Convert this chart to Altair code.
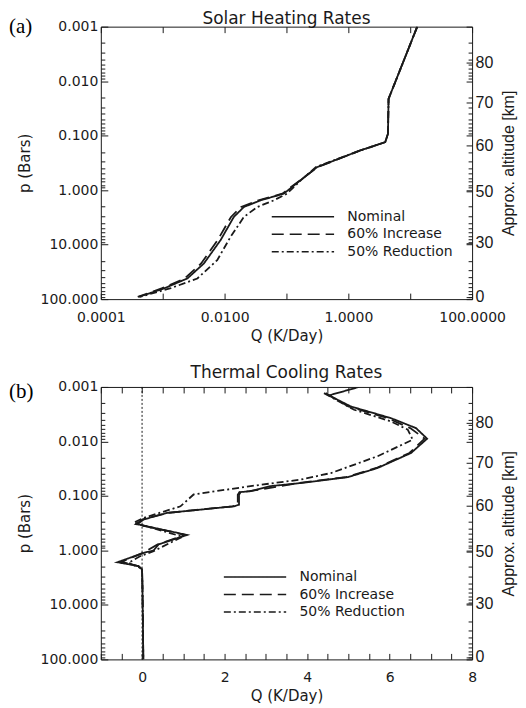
import altair as alt
import pandas as pd

series_names = ["Nominal", "60% Increase", "50% Reduction"]
dash_styles = [[1, 0], [12, 6], [7, 3, 2, 3]]

# ---------- Panel (a): Solar heating rates ----------
a_nom_p = [0.001, 0.0211, 0.0923, 0.1316, 0.187, 0.378, 0.662, 1.16, 1.54, 2.04, 3.11, 8.3, 22.2, 41.8, 63.7, 90.8]
a_nom_q = [13.0, 4.47, 4.37, 3.95, 1.56, 0.313, 0.168, 0.0904, 0.0381, 0.0205, 0.0141, 0.0086, 0.00463, 0.0025, 0.00105, 0.000415]
a_inc_p = [0.001, 0.0211, 0.0923, 0.1316, 0.187, 0.378, 0.662, 1.16, 1.54, 2.04, 3.11, 8.3, 22.2, 41.8, 63.7, 90.8]
a_inc_q = [13.0, 4.47, 4.37, 3.95, 1.56, 0.32, 0.165, 0.086, 0.0353, 0.0185, 0.0127, 0.0077, 0.00418, 0.00226, 0.00096, 0.000395]
a_red_p = [0.001, 0.0211, 0.0923, 0.1316, 0.187, 0.378, 0.662, 1.16, 1.54, 2.04, 3.11, 7.2, 19.3, 41.8, 63.0, 90.8]
a_red_q = [13.0, 4.47, 4.37, 3.95, 1.56, 0.30, 0.17, 0.102, 0.0624, 0.0337, 0.0205, 0.0125, 0.0076, 0.00363, 0.00135, 0.00043]

# ---------- Panel (b): Thermal cooling rates ----------
b_nom_p = [0.001, 0.00143, 0.00228, 0.00373, 0.00569, 0.0089, 0.0163, 0.0307, 0.045, 0.058, 0.066, 0.082, 0.085,
           0.095, 0.145, 0.155, 0.205, 0.27, 0.33, 0.52, 0.776, 1.0, 1.11, 1.65, 1.94, 2.23, 5.0, 20.0, 100.0]
b_nom_q = [5.26, 4.53, 5.06, 6.03, 6.64, 6.91, 6.52, 5.71, 5.0, 3.85, 3.12, 2.63, 2.39,
           2.35, 2.35, 2.23, 0.61, 0.04, -0.12, 1.09, 0.40, 0.28, 0.04, -0.6, -0.08, 0.0, 0.01, 0.02, 0.03]
b_inc_p = [0.0013, 0.00228, 0.00373, 0.00569, 0.0089, 0.0163, 0.0307, 0.045, 0.058, 0.082, 0.085, 0.095, 0.145,
           0.155, 0.205, 0.27, 0.33, 0.52, 0.776, 1.11, 1.62, 1.94, 2.23, 5.0, 20.0, 100.0]
b_inc_q = [4.45, 5.0, 5.95, 6.5, 6.85, 6.48, 5.68, 4.95, 3.8, 2.6, 2.36, 2.32, 2.32,
           2.2, 0.6, 0.02, -0.15, 1.05, 0.38, 0.02, -0.5, -0.1, 0.0, 0.01, 0.02, 0.03]
b_red_p = [0.0013, 0.00262, 0.00428, 0.00608, 0.00927, 0.0187, 0.038, 0.0501, 0.066, 0.094, 0.155, 0.253, 0.31,
           0.56, 1.03, 1.27, 1.69, 2.1, 2.3, 5.0, 20.0, 100.0]
b_red_q = [4.41, 5.14, 6.03, 6.44, 6.56, 5.71, 4.58, 3.85, 2.63, 1.25, 0.93, 0.04, -0.2,
           0.98, 0.28, -0.04, -0.33, -0.04, 0.0, 0.01, 0.02, 0.03]
zero_q = [0.0]

# ---------- axis ticks ----------
p_major = [0.001, 0.01, 0.1, 1, 10, 100]
p_minor = [m * 10.0 ** e for e in range(-3, 2) for m in range(2, 10)]
alt_km = [0, 30, 50, 60, 70, 80]
alt_p = [90.0, 9.3, 1.06, 0.15, 0.0248, 0.0045]
xa_labels = [0.0001, 0.01, 1, 100]
xa_ticks = [0.0001, 0.001, 0.01, 0.1, 1, 10, 100]
xb_labels = [0, 2, 4, 6, 8]
xb_ticks = [v / 2 for v in range(-2, 17)]

FONT = "DejaVu Sans"
INK = "#1a1a1a"
W, H = 372, 273


def frame(rows):
    recs = []
    for name, ps, qs in rows:
        for i, (p, q) in enumerate(zip(ps, qs)):
            recs.append({"series": name, "i": i, "p": p, "q": q})
    return pd.DataFrame(recs)


alt_expr = " : ".join(
    f"abs(log(datum.value) - log({p})) < 0.01 ? '{k}'" for p, k in zip(alt_p, alt_km)
) + " : ''"


def tick_axis(orient, values, size):
    return alt.Axis(orient=orient, values=values, labels=False, ticks=True,
                    tickSize={"expr": str(-size)}, tickColor=INK, tickWidth=1,
                    domain=False, grid=False, title=None)


def panel(df, xs, x_lab_vals, x_fmt, x_tick_vals, xdom, legend_x, title, tag, tag_y, title_off, zero_df=None):
    ys = alt.Scale(type="log", domain=[0.001, 100], reverse=True, nice=False)
    corners = pd.DataFrame({"q": xdom, "p": [0.001, 100]})

    leg = alt.Legend(orient="none", legendX=legend_x, legendY=183, title=None,
                     symbolType="stroke", symbolSize=3900, symbolStrokeWidth=1.6,
                     symbolStrokeColor=INK, labelFont=FONT, labelFontSize=14,
                     labelColor=INK, labelOffset=12, rowPadding=2.5, clipHeight=15, padding=0)

    lines = alt.Chart(df).mark_line(color=INK, strokeWidth=1.8, clip=True).encode(
        x=alt.X("q:Q", scale=xs, axis=alt.Axis(
            orient="bottom", values=x_lab_vals, format=x_fmt, ticks=False, domain=False,
            grid=False, labelFont=FONT, labelFontSize=14, labelColor=INK, labelPadding=11,
            labelFlush=False, labelOverlap=False, title="Q (K/Day)", titleFont=FONT,
            titleFontSize=15, titleFontWeight="normal", titleColor=INK, titlePadding=4)),
        y=alt.Y("p:Q", scale=ys, axis=alt.Axis(
            orient="left", values=p_major, format=".3f", ticks=False, domain=False,
            grid=False, labelFont=FONT, labelFontSize=14, labelColor=INK, labelPadding=3,
            labelOverlap=False, title="p (Bars)", titleFont=FONT, titleFontSize=15,
            titleFontWeight="normal", titleColor=INK, titlePadding=8)),
        strokeDash=alt.StrokeDash("series:N", scale=alt.Scale(domain=series_names, range=dash_styles),
                                  legend=leg),
        order=alt.Order("i:Q"),
    )

    def ghost(xaxis, yaxis):
        return alt.Chart(corners).mark_point(opacity=0).encode(
            x=alt.X("q:Q", scale=xs, axis=xaxis),
            y=alt.Y("p:Q", scale=ys, axis=yaxis))

    right_lab = alt.Axis(orient="right", values=alt_p, labelExpr=alt_expr, ticks=False,
                         domain=False, grid=False, labelFont="Liberation Sans", labelFontSize=16,
                         labelColor=INK, labelPadding=3, labelOverlap=False,
                         title="Approx. altitude [km]", titleFont="Liberation Sans",
                         titleFontSize=16, titleFontWeight="normal", titleColor=INK,
                         titleAngle=270, titleBaseline="top", titlePadding=8)

    layers = [
        ghost(tick_axis("bottom", x_tick_vals, 6), tick_axis("left", p_major, 7)),
        ghost(tick_axis("top", x_tick_vals, 6), tick_axis("left", p_minor, 4)),
        ghost(None, right_lab),
        ghost(None, tick_axis("right", p_minor, 4)),
        ghost(None, tick_axis("right", p_major + alt_p, 6)),
    ]
    if zero_df is not None:
        layers.append(alt.Chart(zero_df).mark_rule(color=INK, strokeWidth=1, strokeDash=[2, 2]).encode(
            x=alt.X("q:Q", scale=xs, axis=None)))
    layers.append(lines)
    tag_layer = alt.Chart(pd.DataFrame({"tag": [tag]})).mark_text(
        font="Liberation Serif", fontSize=21, align="left", baseline="middle", color="black"
    ).encode(text="tag:N", x=alt.value(-92), y=alt.value(tag_y))
    layers.append(tag_layer)

    return alt.layer(*layers).resolve_scale(x="independent", y="independent").properties(
        width=W, height=H,
        title=alt.TitleParams(title, font=FONT, fontSize=17, fontWeight="normal",
                              color=INK, anchor="middle", offset={"expr": str(title_off)}))


df_a = frame([("Nominal", a_nom_p, a_nom_q), ("60% Increase", a_inc_p, a_inc_q),
              ("50% Reduction", a_red_p, a_red_q)])
df_b = frame([("Nominal", b_nom_p, b_nom_q), ("60% Increase", b_inc_p, b_inc_q),
              ("50% Reduction", b_red_p, b_red_q)])

xs_a = alt.Scale(type="log", domain=[0.0001, 100], nice=False)
xs_b = alt.Scale(type="linear", domain=[-1, 8], nice=False, zero=False)

top = panel(df_a, xs_a, xa_labels, ".4f", xa_ticks, [0.0001, 100], 170, "Solar Heating Rates", "(a)", 0, -12)
bottom = panel(df_b, xs_b, xb_labels, "d", xb_ticks, [-1, 8], 122, "Thermal Cooling Rates", "(b)", 5, -2,
               zero_df=pd.DataFrame({"q": zero_q}))

chart = alt.vconcat(top, bottom, spacing=19).resolve_scale(strokeDash="independent").resolve_legend(
    strokeDash="independent").properties(padding=0).configure_view(stroke=INK, strokeWidth=1)

chart.save("out.html", embed_options={"renderer": "svg", "actions": False})
